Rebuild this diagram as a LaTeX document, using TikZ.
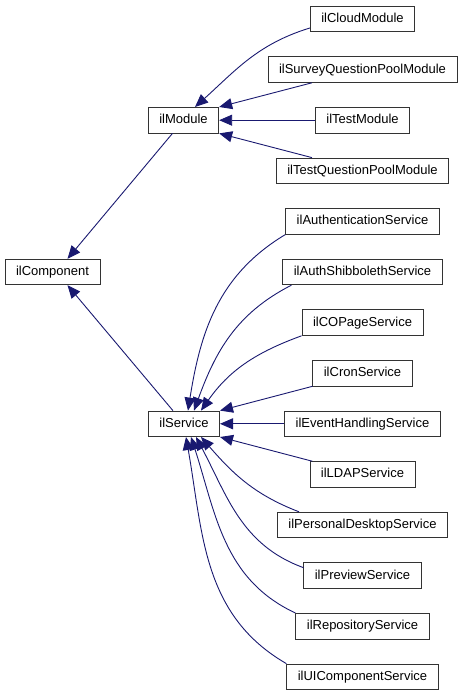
\documentclass[tikz,border=0pt]{standalone}
\usepackage{fontspec}
\setmainfont{Liberation Sans}
\usepackage{xcolor}
\usepackage{tikz}
\usetikzlibrary{arrows.meta, positioning}

\definecolor{edgeblue}{HTML}{191970}

\begin{document}
\begin{tikzpicture}[x=1pt, y=1pt, node distance=50.6pt, on grid,
    cls/.style={draw=black!80, line width=0.9pt, rectangle, inner xsep=11pt, inner ysep=0pt,
        minimum height=25.5pt, text height=9.6pt, text depth=2.7pt, font=\fontsize{13}{15}\selectfont},
    inh/.style={color=edgeblue, line width=0.9pt, -{Triangle[length=13pt, width=11pt]}}]
        \useasboundingbox (0,0) rectangle (463,-696);

        % derived classes, one column
        \node[cls] (cloud) at (362.5,-19) {ilCloudModule};
        \node[cls] (survey) [below=of cloud] {ilSurveyQuestionPoolModule};
        \node[cls] (tmod) [below=of survey] {ilTestModule};
        \node[cls] (tqp) [below=of tmod] {ilTestQuestionPoolModule};
        \node[cls] (auth) [below=of tqp] {ilAuthenticationService};
        \node[cls] (shib) [below=of auth] {ilAuthShibbolethService};
        \node[cls] (copage) [below=of shib] {ilCOPageService};
        \node[cls] (cron) [below=of copage] {ilCronService};
        \node[cls] (event) [below=of cron] {ilEventHandlingService};
        \node[cls] (ldap) [below=of event] {ilLDAPService};
        \node[cls] (pd) [below=of ldap] {ilPersonalDesktopService};
        \node[cls] (prev) [below=of pd] {ilPreviewService};
        \node[cls] (repo) [below=of prev] {ilRepositoryService};
        \node[cls] (uicomp) [below=of repo] {ilUIComponentService};

        % base classes
        \node[cls] (mod) [left=179pt of tmod] {ilModule};
        \node[cls] (srv) [left=178.5pt of event] {ilService};
        \node[cls] (comp) [left=310pt of shib] {ilComponent};

        \path[inh]
        (mod) edge ([xshift=15pt]comp.north)
        (srv) edge ([xshift=15pt]comp.south);

        \path[inh]
        ([yshift=-9pt]cloud.west) edge [out=197, in=42] ([xshift=11.5pt]mod.north)
        (survey) edge (mod.north east)
        (tmod) edge (mod)
        (tqp) edge (mod.south east);

        \path[inh]
        (auth.south west) edge [out=211, in=81] ([xshift=4pt]srv.north)
        ([xshift=9pt]shib.south west) edge [out=207, in=70] ([xshift=10pt]srv.north)
        (copage.south west) edge [out=200, in=55] ([xshift=17pt]srv.north)
        (cron) edge (srv.north east)
        (event) edge (srv)
        (ldap) edge (srv.south east)
        ([xshift=22pt]pd.north west) edge [out=159, in=-49] ([xshift=17pt]srv.south)
        ([yshift=8pt]prev.west) edge [out=160, in=-62] ([xshift=12pt]srv.south)
        (repo.north west) edge [out=155, in=-72] ([xshift=7pt]srv.south)
        (uicomp.north west) edge [out=150, in=-80] ([xshift=2pt]srv.south);
\end{tikzpicture}
\end{document}
